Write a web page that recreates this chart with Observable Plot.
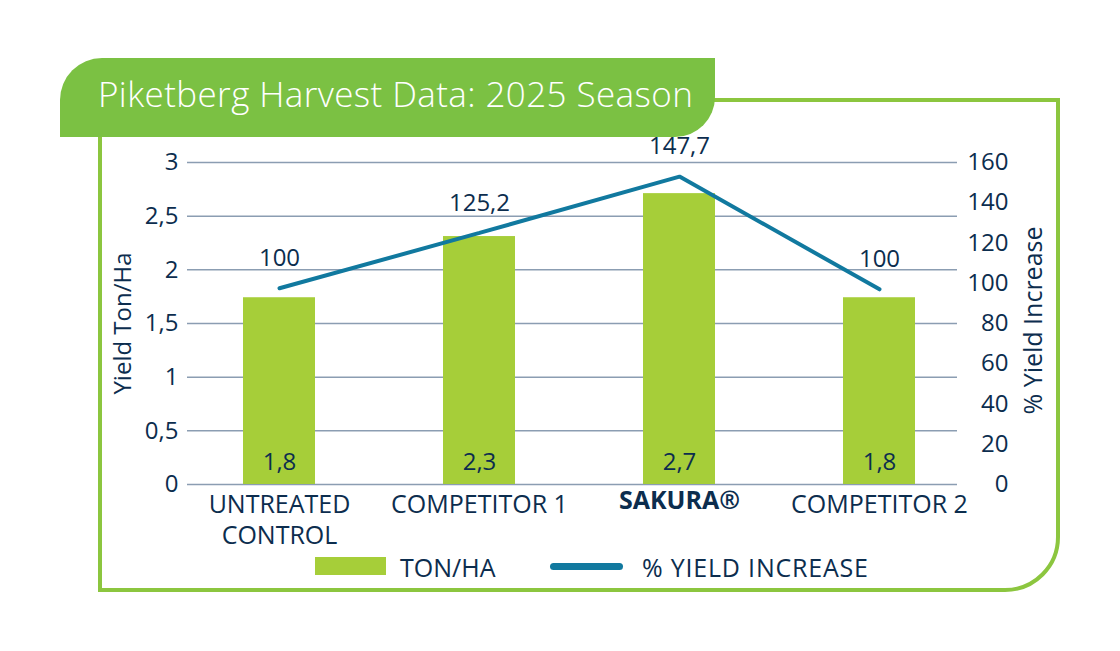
<!DOCTYPE html>
<html>
<head>
<meta charset="utf-8">
<script src="https://cdn.jsdelivr.net/npm/d3@7"></script>
<script src="https://cdn.jsdelivr.net/npm/@observablehq/plot@0.6"></script>
<style>
  html, body { margin: 0; padding: 0; background: #fff; }
  #wrap { position: relative; width: 1120px; height: 651px; overflow: hidden; font-family: "Open Sans", "Noto Sans", sans-serif; color: #0c2d4e; }
  #frame { position: absolute; left: 98px; top: 98px; width: 962px; height: 494px; box-sizing: border-box; border: 4px solid #8cc63f; border-bottom-right-radius: 55px; }
  #tab { position: absolute; left: 60px; top: 58px; width: 655px; height: 79px; background: #7bc143; border-top-left-radius: 42px; border-bottom-right-radius: 40px; }
  #title { position: absolute; left: 98px; top: 70px; font-size: 35px; font-weight: 300; line-height: normal; color: #fff; white-space: nowrap; letter-spacing: 0.4px; }
  #chart { position: absolute; left: 0; top: 0; }
  .lg { position: absolute; }
  .lgtext { position: absolute; font-size: 25px; line-height: 30px; white-space: nowrap; color: #0c2d4e; }
</style>
</head>
<body>
<div id="wrap">
  <div id="frame"></div>
  <div id="tab"></div>
  <div id="title">Piketberg Harvest Data: 2025 Season</div>
  <div id="chart"></div>
  <div class="lg" style="left:315px; top:557px; width:71px; height:18px; background:#a6ce39;"></div>
  <div class="lgtext" style="left:400px; top:552px;">TON/HA</div>
  <div class="lg" style="left:550px; top:563px; width:73px; height:7px; border-radius:4px; background:#11799f;"></div>
  <div class="lgtext" style="left:642px; top:552px; letter-spacing: 0.8px;">% YIELD INCREASE</div>
</div>
<script>
// ---- data ----
const categories = ["UNTREATED\nCONTROL", "COMPETITOR 1", "SAKURA®", "COMPETITOR 2"];
const tonValues = [1.74, 2.31, 2.71, 1.74];
const tonLabels = ["1,8", "2,3", "2,7", "1,8"];
const pctValues = [97.5, 125, 153, 97];
const pctLabels = ["100", "125,2", "147,7", "100"];
const leftTicks = [0, 0.5, 1, 1.5, 2, 2.5, 3];
const rightTicks = [0, 20, 40, 60, 80, 100, 120, 140, 160];

const k = 3 / 160; // right axis mapped onto the left scale
const data = categories.map((c, i) => ({
  cat: c, ton: tonValues[i], tonLabel: tonLabels[i], pct: pctValues[i], pctLabel: pctLabels[i]
}));

const navy = "#0c2d4e";
const green = "#a6ce39";
const blue = "#11799f";
const grid = "#8b9db2";
const comma = v => String(v).replace(".", ",");

const chart = Plot.plot({
  width: 1120,
  height: 651,
  marginTop: 162,
  marginBottom: 167,
  marginLeft: 187,
  marginRight: 163,
  style: { fontFamily: '"Open Sans", "Noto Sans", sans-serif', fontSize: "24px", color: navy, background: "transparent", overflow: "visible" },
  x: { type: "band", domain: categories, range: [179, 979], paddingInner: 0.64, paddingOuter: 0.32, axis: null },
  y: { domain: [0, 3], axis: null },
  marks: [
    Plot.ruleY(leftTicks, { stroke: grid, strokeWidth: 1.5 }),
    Plot.axisY({ anchor: "left", ticks: leftTicks, tickFormat: comma, tickSize: 0, tickPadding: 9, label: null, fill: navy, fontSize: 24 }),
    Plot.axisY({ anchor: "right", ticks: rightTicks.map(v => v * k), tickFormat: v => String(Math.round(v / k)), tickSize: 0, tickPadding: 51, textAnchor: "end", label: null, fill: navy, fontSize: 24 }),
    Plot.text(["Yield Ton/Ha"], { frameAnchor: "left", textAnchor: "middle", dx: -64, rotate: -90, fill: navy, fontSize: 24 }),
    Plot.text(["% Yield Increase"], { frameAnchor: "right", textAnchor: "middle", dx: 76, dy: -3, rotate: -90, fill: navy, fontSize: 25 }),
    Plot.barY(data, { x: "cat", y: "ton", fill: green }),
    Plot.text(data, { x: "cat", y: () => 0, text: "tonLabel", dy: -22, fill: navy, fontSize: 24 }),
    Plot.line(data, { x: "cat", y: d => d.pct * k, stroke: blue, strokeWidth: 4, strokeLinejoin: "miter", strokeLinecap: "round" }),
    Plot.text(data, { x: "cat", y: d => d.pct * k, text: "pctLabel", dy: -30, fill: navy, fontSize: 24 }),
    Plot.text(data.filter(d => d.cat !== "SAKURA®"), { x: "cat", frameAnchor: "bottom", text: "cat", lineAnchor: "top", dy: 7, lineHeight: 1.22, fill: navy, fontSize: 25 }),
    Plot.text(data.filter(d => d.cat === "SAKURA®"), { x: "cat", frameAnchor: "bottom", text: "cat", lineAnchor: "top", dy: 7, fill: navy, fontSize: 25, fontWeight: "bold" })
  ]
});
document.getElementById("chart").appendChild(chart);
</script>
</body>
</html>
